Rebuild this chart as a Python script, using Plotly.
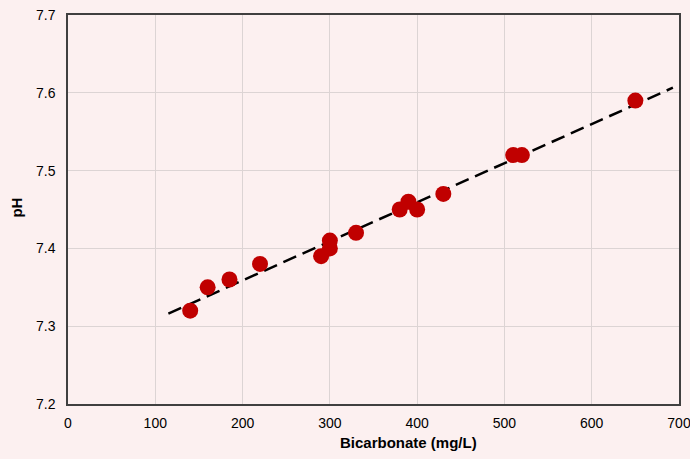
import numpy as np
import plotly.graph_objects as go

# Bicarbonate concentration (mg/L) and measured pH
bicarbonate = [140, 160, 185, 220, 290, 300, 300, 330, 380, 390, 400, 430, 510, 520, 650]
ph = [7.32, 7.35, 7.36, 7.38, 7.39, 7.40, 7.41, 7.42, 7.45, 7.46, 7.45, 7.47, 7.52, 7.52, 7.59]

# Extent of the fitted trend line
trend_range = [115, 693]

slope, intercept = np.polyfit(bicarbonate, ph, 1)
trend_x = np.array(trend_range, dtype=float)
trend_y = slope * trend_x + intercept

bg = "#fcf0f0"
font_family = "Liberation Sans, Arial, sans-serif"

fig = go.Figure()
fig.add_trace(go.Scatter(
    x=trend_x, y=trend_y, mode="lines",
    line=dict(color="black", width=2.5, dash="14px,7px"),
    hoverinfo="skip", showlegend=False,
))
fig.add_trace(go.Scatter(
    x=bicarbonate, y=ph, mode="markers",
    marker=dict(color="#c00000", size=16, line=dict(width=0)),
    showlegend=False,
))

axis_common = dict(
    showgrid=True, gridcolor="#dcd4d4", gridwidth=1,
    showline=True, linecolor="#404040", linewidth=1.5, mirror=True,
    ticks="", zeroline=False, automargin=False,
    ticklabeloverflow="allow",
    tickfont=dict(family=font_family, size=14, color="black"),
)

fig.update_layout(
    width=690, height=459,
    margin=dict(l=68, r=11, t=15, b=55),
    paper_bgcolor=bg, plot_bgcolor=bg,
    font=dict(family=font_family, color="black"),
    xaxis=dict(range=[0, 700], dtick=100, ticklabelstandoff=5, **axis_common),
    yaxis=dict(range=[7.2, 7.7], dtick=0.1, tickformat=".1f",
               ticklabelstandoff=8, **axis_common),
    annotations=[
        dict(text="<b>Bicarbonate (mg/L)</b>", xref="paper", yref="paper",
             x=0.558, y=-0.10, xanchor="center", yanchor="middle",
             showarrow=False, font=dict(size=15)),
        dict(text="<b>pH</b>", xref="paper", yref="paper",
             x=-0.085, y=0.505, xanchor="center", yanchor="middle",
             textangle=-90, showarrow=False, font=dict(size=15)),
    ],
)

fig.write_html("out.html")
